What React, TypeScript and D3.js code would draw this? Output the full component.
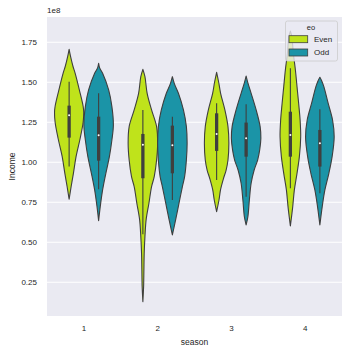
import React from 'react';
import * as d3 from 'd3';

// categories
const seasons = ['1', '2', '3', '4'];
const hues = ['Even', 'Odd'];
const hueColors = ['#bfe31b', '#1b94a7'];
const yTicks = [0.25, 0.5, 0.75, 1.0, 1.25, 1.5, 1.75];

// density profiles: income (1e8) and relative density (1 = full half width)
const levelsEven = [
  [1.706, 1.66, 1.6, 1.556, 1.45, 1.35, 1.31, 1.25, 1.15, 1.035, 0.93, 0.85, 0.769],
  [1.581, 1.535, 1.431, 1.327, 1.223, 1.119, 1.014, 0.91, 0.848, 0.744, 0.64, 0.535, 0.431, 0.327, 0.223, 0.129],
  [1.5625, 1.5, 1.431, 1.327, 1.223, 1.119, 1.014, 0.95, 0.9, 0.83, 0.764, 0.691],
  [1.82, 1.785, 1.681, 1.577, 1.473, 1.369, 1.264, 1.16, 1.035, 0.931, 0.827, 0.723, 0.602],
];
const densityEven = [
  [0, 0.1, 0.26, 0.41, 0.7, 0.95, 0.99, 0.95, 0.75, 0.47, 0.29, 0.14, 0],
  [0, 0.14, 0.29, 0.59, 0.93, 1.0, 0.93, 0.77, 0.59, 0.41, 0.22, 0.14, 0.09, 0.07, 0.05, 0],
  [0, 0.14, 0.27, 0.56, 0.77, 0.83, 0.77, 0.64, 0.47, 0.27, 0.16, 0],
  [0, 0.1, 0.2, 0.34, 0.45, 0.56, 0.66, 0.7, 0.61, 0.45, 0.27, 0.16, 0],
];
const levelsOdd = [
  [1.619, 1.59, 1.556, 1.452, 1.348, 1.233, 1.139, 1.035, 0.931, 0.827, 0.723, 0.635],
  [1.535, 1.49, 1.431, 1.327, 1.223, 1.119, 1.014, 0.91, 0.848, 0.744, 0.64, 0.546],
  [1.539, 1.49, 1.431, 1.327, 1.223, 1.15, 1.077, 1.014, 0.95, 0.869, 0.764, 0.66, 0.608],
  [1.531, 1.51, 1.473, 1.369, 1.264, 1.16, 1.035, 0.931, 0.827, 0.723, 0.608],
];
const densityOdd = [
  [0, 0.07, 0.27, 0.68, 0.9, 1.0, 0.9, 0.73, 0.49, 0.27, 0.11, 0],
  [0, 0.14, 0.41, 0.75, 0.95, 1.0, 0.95, 0.83, 0.68, 0.45, 0.22, 0],
  [0, 0.14, 0.34, 0.68, 0.95, 1.0, 0.92, 0.78, 0.54, 0.34, 0.22, 0.12, 0],
  [0, 0.12, 0.27, 0.56, 0.86, 0.97, 0.83, 0.61, 0.34, 0.16, 0],
];

// inner box: whisker low, q1, median, q3, whisker high
const boxEven = [
  [0.973, 1.154, 1.294, 1.354, 1.504],
  [0.55, 0.9, 1.11, 1.177, 1.327],
  [0.889, 1.071, 1.177, 1.306, 1.369],
  [0.8375, 1.035, 1.171, 1.316, 1.588],
];
const boxOdd = [
  [0.831, 1.01, 1.169, 1.285, 1.431],
  [0.764, 0.931, 1.106, 1.229, 1.285],
  [0.785, 1.035, 1.15, 1.248, 1.363],
  [0.806, 0.973, 1.119, 1.202, 1.331],
];

const W = 353, H = 353;
const left = 47, right = 342, top = 17, bottom = 316;
const font = '"Liberation Sans", Arial, sans-serif';
const ink = '#3f3f3f';

export default function App() {
  const x = d3.scaleBand().domain(seasons).range([left, right]).padding(0);
  const inner = d3.scaleBand().domain(hues).range([0.1 * x.bandwidth(), 0.9 * x.bandwidth()]);
  const y = d3.scaleLinear().domain([0.039, 1.908]).range([bottom, top]);
  const half = d3.scaleLinear().domain([0, 1]).range([0, inner.bandwidth() / 2]);

  const violins: any[] = [];
  seasons.forEach((s, i) => {
    hues.forEach((h, j) => {
      const lv = j === 0 ? levelsEven[i] : levelsOdd[i];
      const dn = j === 0 ? densityEven[i] : densityOdd[i];
      const bx = j === 0 ? boxEven[i] : boxOdd[i];
      const cx = (x(s) as number) + (inner(h) as number) + inner.bandwidth() / 2;
      const pts: [number, number][] = lv.map((v, k) => [cx + half(dn[k]), y(v)]);
      const back: [number, number][] = lv.map((v, k) => [cx - half(dn[k]), y(v)] as [number, number]).reverse();
      const line = d3.line().curve(d3.curveCatmullRom.alpha(0.5));
      const d = line(pts) + 'L' + (line(back) as string).slice(1) + 'Z';
      violins.push({ key: s + h, d, color: hueColors[j], cx, bx });
    });
  });

  return (
    <svg width={W} height={H} style={{ position: 'absolute', left: 0, top: 0 }} fontFamily={font}>
      <rect x={0} y={0} width={W} height={H} fill="#ffffff" />
      <rect x={left} y={top} width={right - left} height={bottom - top} fill="#eaeaf2" />
      {yTicks.map(t => (
        <g key={t}>
          <line x1={left} x2={right} y1={y(t)} y2={y(t)} stroke="#ffffff" strokeWidth={1} />
          <text x={37} y={y(t)} dy="0.33em" textAnchor="end" fontSize={8} fill="#262626">{t.toFixed(2)}</text>
        </g>
      ))}
      <text x={left} y={13} fontSize={8} fill="#262626">1e8</text>
      {seasons.map(s => (
        <text key={s} x={(x(s) as number) + x.bandwidth() / 2} y={330.5} textAnchor="middle" fontSize={8} fill="#262626">{s}</text>
      ))}
      <text x={(left + right) / 2} y={345} textAnchor="middle" fontSize={8.5} fill="#262626">season</text>
      <text transform={`translate(14.5,${(top + bottom) / 2}) rotate(-90)`} textAnchor="middle" fontSize={8.5} fill="#262626">Income</text>

      {violins.map(v => (
        <g key={v.key}>
          <path d={v.d} fill={v.color} stroke={ink} strokeWidth={1.1} strokeLinejoin="round" />
          <line x1={v.cx} x2={v.cx} y1={y(v.bx[0])} y2={y(v.bx[4])} stroke={ink} strokeWidth={1.1} />
          <line x1={v.cx} x2={v.cx} y1={y(v.bx[1])} y2={y(v.bx[3])} stroke={ink} strokeWidth={3.3} />
          <circle cx={v.cx} cy={y(v.bx[2])} r={1} fill="#ffffff" />
        </g>
      ))}

      <g>
        <rect x={285.5} y={21} width={52} height={40} rx={2} fill="#eaeaf2" fillOpacity={0.8} stroke="#cccccc" strokeWidth={0.8} />
        <text x={311} y={30} textAnchor="middle" fontSize={7.5} fill="#262626">eo</text>
        {hues.map((h, j) => (
          <g key={h}>
            <rect x={289} y={35.7 + j * 13.3} width={18.7} height={7} fill={hueColors[j]} stroke={ink} strokeWidth={0.8} />
            <text x={314} y={39.2 + j * 13.3} dy="0.35em" fontSize={8} fill="#262626">{h}</text>
          </g>
        ))}
      </g>
    </svg>
  );
}
